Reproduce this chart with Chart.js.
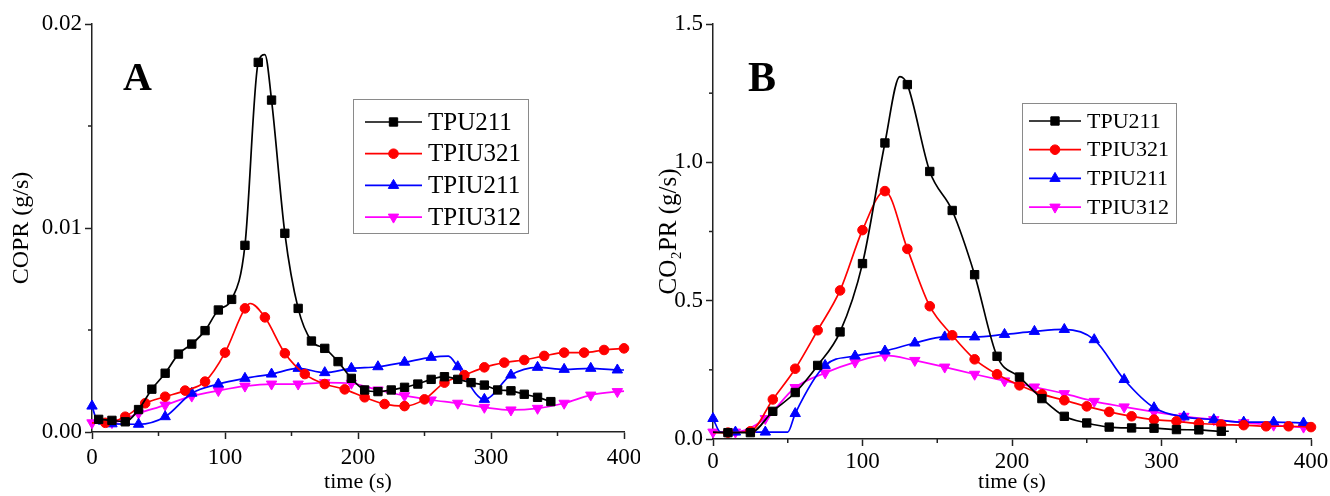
<!DOCTYPE html>
<html><head><meta charset="utf-8">
<script src="https://cdn.jsdelivr.net/npm/chart.js@4.4.0/dist/chart.umd.min.js"></script>
<style>
html,body{margin:0;padding:0;background:#fff;}
#wrap{position:relative;width:1330px;height:496px;overflow:hidden;}
#ca{position:absolute;left:0;top:0;}
#cb{position:absolute;left:640px;top:0;}
</style></head><body>
<div id="wrap">
<canvas id="ca" width="640" height="496"></canvas>
<canvas id="cb" width="690" height="496"></canvas>
</div>
<script>
// ---------- DATA ----------
const seriesNames = ['TPU211', 'TPIU321', 'TPIU211', 'TPIU312'];
const xTicks = [0, 100, 200, 300, 400];
const yTicksA = [0, 0.01, 0.02];
const yTicksB = [0, 0.5, 1.0, 1.5];

// Panel A: COPR (g/s)
const A_TPU211_t = [5,15,25,35,45,55,65,75,85,95,105,115,125,130,135,145,155,165,175,185,195,205,215,225,235,245,255,265,275,285,295,305,315,325,335,345];
const A_TPU211_v = [0.00062,0.00057,0.0005,0.0011,0.0021,0.00288,0.00382,0.00431,0.00497,0.00598,0.0065,0.00915,0.01812,0.0185,0.01627,0.00974,0.00606,0.00446,0.0041,0.00345,0.00263,0.00206,0.00198,0.00206,0.00219,0.00235,0.00258,0.00271,0.00258,0.00242,0.0023,0.00206,0.00202,0.00185,0.0017,0.00149];
const A_TPIU321_t = [0,10,25,40,55,70,85,100,115,119,130,145,160,175,190,205,220,235,250,265,280,295,310,325,340,355,370,385,400];
const A_TPIU321_v = [0.00045,0.00045,0.00075,0.00141,0.00173,0.00203,0.00247,0.00389,0.00606,0.0063,0.00562,0.00386,0.00284,0.00235,0.00209,0.0017,0.00137,0.00127,0.0016,0.00242,0.00279,0.00317,0.0034,0.00353,0.00373,0.00389,0.00389,0.00402,0.0041];
const A_TPIU211_t = [0,5,15,35,55,75,95,115,135,155,175,195,215,235,255,268,275,295,315,335,355,375,395,400];
const A_TPIU211_v = [0.00127,0.0004,0.0004,0.00038,0.00075,0.0019,0.00235,0.00263,0.00284,0.00312,0.00291,0.00312,0.0032,0.00342,0.00366,0.00372,0.0032,0.0016,0.00279,0.00317,0.00307,0.00312,0.00304,0.00304];
const A_TPIU312_t = [0,15,35,55,75,95,115,135,155,175,195,215,235,255,275,295,315,335,355,375,395,400];
const A_TPIU312_v = [0.00045,0.00046,0.00092,0.00132,0.00176,0.00203,0.00225,0.00235,0.00235,0.00242,0.00239,0.00206,0.00178,0.00157,0.00141,0.00121,0.00108,0.00116,0.00141,0.00181,0.00198,0.002];

// Panel B: CO2PR (g/s)
const B_TPU211_t = [0,10,25,40,55,70,85,100,115,125,130,145,160,175,190,205,220,235,250,265,280,295,310,325,340,345];
const B_TPU211_v = [0.025,0.023,0.023,0.1,0.168,0.266,0.387,0.634,1.07,1.31,1.281,0.967,0.826,0.594,0.299,0.224,0.146,0.082,0.058,0.043,0.04,0.039,0.034,0.033,0.028,0.028];
const B_TPIU321_t = [0,10,25,40,55,70,85,100,115,130,145,160,175,190,205,220,235,250,265,280,295,310,325,340,355,370,385,400];
const B_TPIU321_v = [0.023,0.023,0.028,0.143,0.254,0.393,0.537,0.755,0.896,0.687,0.48,0.375,0.288,0.234,0.194,0.162,0.14,0.118,0.098,0.082,0.07,0.064,0.056,0.052,0.05,0.046,0.046,0.043];
const B_TPIU211_t = [0,5,15,35,50,55,75,95,115,135,155,175,195,215,235,255,275,295,315,335,355,375,395,400];
const B_TPIU211_v = [0.074,0.025,0.025,0.025,0.025,0.092,0.266,0.3,0.318,0.347,0.369,0.369,0.378,0.389,0.396,0.359,0.215,0.113,0.08,0.07,0.061,0.061,0.058,0.057];
const B_TPIU312_t = [0,15,35,55,75,95,115,135,155,175,195,215,235,255,275,295,315,335,355,375,395,400];
const B_TPIU312_v = [0.025,0.025,0.074,0.186,0.239,0.278,0.302,0.284,0.26,0.234,0.21,0.188,0.164,0.136,0.116,0.098,0.082,0.07,0.059,0.05,0.043,0.043];

// ---------- STYLE ----------
const FONT = "'Liberation Serif', 'Times New Roman', 'DejaVu Serif', serif";
const STY = {
  TPU211:  {color:'#000000', style:'rect',     r:5.9, rot:0},
  TPIU321: {color:'#ff0000', style:'circle',   r:4.8, rot:0},
  TPIU211: {color:'#0000ff', style:'triangle', r:6.0, rot:0},
  TPIU312: {color:'#ff00ff', style:'triangle', r:6.0, rot:180}
};
const MARK_A = {
  TPU211:  t => t % 10 === 5,
  TPIU321: t => t % 15 === 10,
  TPIU211: t => t % 20 === 15 || t === 0,
  TPIU312: t => t % 20 === 15 || t === 0
};
const MARK_B = {
  TPU211:  t => t % 15 === 10,
  TPIU321: t => t % 15 === 10,
  TPIU211: t => t % 20 === 15 || t === 0,
  TPIU312: t => t % 20 === 15 || t === 0
};

function pts(ts, vs) { return ts.map((t, i) => ({x: t, y: vs[i]})); }

function makeDatasets(list, marks) {
  return list.map((d, i) => {
    const name = seriesNames[i];
    const s = STY[name];
    return {
      label: name,
      data: pts(d[0], d[1]),
      borderColor: s.color,
      backgroundColor: s.color,
      pointBackgroundColor: s.color,
      pointBorderColor: s.color,
      borderWidth: 1.7,
      pointBorderWidth: 1,
      pointStyle: s.style,
      pointRotation: s.rot,
      markerRadius: s.r,
      pointRadius: c => (c.raw && marks[name](c.raw.x)) ? s.r : 0,
      pointHoverRadius: 0,
      cubicInterpolationMode: 'monotone',
      clip: false
    };
  });
}

// custom plugin: minor ticks, boxed legend, panel letter
const decor = {
  id: 'decor',
  afterDraw(chart) {
    const o = chart.options.plugins.decor;
    const ctx = chart.ctx;
    const xs = chart.scales.x, ys = chart.scales.y;
    ctx.save();
    ctx.strokeStyle = '#222'; ctx.lineWidth = 1.5;
    o.minorX.forEach(v => {
      const px = xs.getPixelForValue(v);
      ctx.beginPath(); ctx.moveTo(px, chart.chartArea.bottom); ctx.lineTo(px, chart.chartArea.bottom + 4); ctx.stroke();
    });
    o.minorY.forEach(v => {
      const py = ys.getPixelForValue(v);
      ctx.beginPath(); ctx.moveTo(chart.chartArea.left, py); ctx.lineTo(chart.chartArea.left - 4, py); ctx.stroke();
    });
    ctx.fillStyle = '#000';
    ctx.font = 'bold ' + o.letterSize + 'px ' + FONT;
    ctx.textBaseline = 'alphabetic'; ctx.textAlign = 'left';
    ctx.fillText(o.letter, o.letterX, o.letterY);
    const L = o.legend;
    ctx.strokeStyle = '#8a8a8a'; ctx.lineWidth = 1;
    ctx.strokeRect(L.x + 0.5, L.y + 0.5, L.w, L.h);
    ctx.font = L.size + 'px ' + FONT;
    ctx.textBaseline = 'middle';
    chart.data.datasets.forEach((ds, i) => {
      const y = L.row0 + i * L.gap;
      ctx.strokeStyle = ds.borderColor; ctx.lineWidth = ds.borderWidth;
      ctx.beginPath(); ctx.moveTo(L.lx0, y); ctx.lineTo(L.lx1, y); ctx.stroke();
      ctx.fillStyle = ds.backgroundColor; ctx.lineWidth = 1;
      Chart.helpers.drawPoint(ctx, {pointStyle: ds.pointStyle, rotation: ds.pointRotation, radius: ds.markerRadius, borderWidth: 1}, (L.lx0 + L.lx1) / 2, y);
      ctx.fillStyle = '#000';
      ctx.fillText(ds.label, L.tx, y + 1);
    });
    ctx.restore();
  }
};

function makeChart(id, datasets, cfg) {
  return new Chart(document.getElementById(id), {
    type: 'line',
    data: {datasets},
    plugins: [decor],
    options: {
      responsive: false,
      animation: false,
      devicePixelRatio: 1,
      layout: {padding: {top: cfg.padTop, right: cfg.padRight, bottom: 0, left: 0}},
      plugins: {
        legend: {display: false},
        tooltip: {enabled: false},
        decor: cfg.decor
      },
      scales: {
        x: {
          type: 'linear', min: 0, max: 400,
          afterBuildTicks: s => { s.ticks = xTicks.map(v => ({value: v})); },
          ticks: {color: '#000', font: {family: FONT, size: 23}, padding: cfg.xTickPad, maxRotation: 0, callback: v => String(v)},
          grid: {drawOnChartArea: false, drawTicks: true, tickLength: 7, tickColor: '#222', tickWidth: 1.5},
          border: {display: true, color: '#222', width: 1.5},
          title: {display: true, text: 'time (s)', color: '#000', font: {family: FONT, size: 22}, padding: {top: 0, bottom: cfg.xTitlePad}},
          afterFit: s => { s.height = cfg.xHeight; s.paddingLeft = 0; s.paddingRight = 0; }
        },
        y: {
          type: 'linear', min: 0, max: cfg.yMax,
          afterBuildTicks: s => { s.ticks = cfg.yTicks.map(v => ({value: v})); },
          ticks: {color: '#000', font: {family: FONT, size: 23}, padding: 3, callback: v => v.toFixed(cfg.yDec)},
          grid: {drawOnChartArea: false, drawTicks: true, tickLength: 7, tickColor: '#222', tickWidth: 1.5},
          border: {display: true, color: '#222', width: 1.5},
          title: {display: true, text: cfg.yTitle, color: '#000', font: {family: FONT, size: cfg.yTitleSize}, padding: {top: cfg.yTitlePad, bottom: 0}},
          afterFit: s => { s.width = cfg.yWidth; s.paddingTop = 0; s.paddingBottom = 0; }
        }
      }
    }
  });
}

makeChart('ca', makeDatasets([
  [A_TPU211_t, A_TPU211_v], [A_TPIU321_t, A_TPIU321_v], [A_TPIU211_t, A_TPIU211_v], [A_TPIU312_t, A_TPIU312_v]
], MARK_A), {
  padTop: 24, padRight: 16, xHeight: 64, yWidth: 92, yMax: 0.02, yTicks: yTicksA, yDec: 2,
  yTitle: 'COPR (g/s)', yTitleSize: 24, yTitlePad: 7, xTickPad: 5, xTitlePad: 1,
  decor: {
    minorX: [50, 150, 250, 350], minorY: [0.005, 0.015],
    letter: 'A', letterSize: 40, letterX: 123, letterY: 90,
    legend: {x: 353, y: 99, w: 175, h: 134, row0: 122, gap: 31.7, lx0: 365, lx1: 422, tx: 428, size: 25}
  }
});

makeChart('cb', makeDatasets([
  [B_TPU211_t, B_TPU211_v], [B_TPIU321_t, B_TPIU321_v], [B_TPIU211_t, B_TPIU211_v], [B_TPIU312_t, B_TPIU312_v]
], MARK_B), {
  padTop: 24, padRight: 19, xHeight: 57, yWidth: 73, yMax: 1.5, yTicks: yTicksB, yDec: 1,
  yTitle: 'CO\u2082PR (g/s)', yTitleSize: 25, yTitlePad: 14, xTickPad: 2, xTitlePad: 1,
  decor: {
    minorX: [50, 150, 250, 350], minorY: [0.25, 0.75, 1.25],
    letter: 'B', letterSize: 42, letterX: 108, letterY: 91,
    legend: {x: 382, y: 103, w: 154, h: 120, row0: 121, gap: 28.7, lx0: 389, lx1: 441, tx: 447, size: 22}
  }
});
</script>
</body></html>
